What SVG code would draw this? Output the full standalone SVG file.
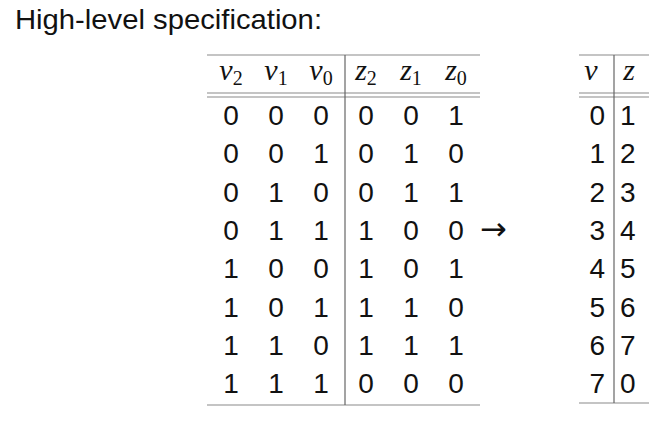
<svg xmlns="http://www.w3.org/2000/svg" width="664" height="426" viewBox="0 0 664 426">
<style>
.t{font-family:"Liberation Sans","DejaVu Sans",sans-serif;font-size:28px;fill:#111}
.d{font-family:"Liberation Sans","DejaVu Sans",sans-serif;font-size:28px;fill:#111;text-anchor:middle}
.m{font-family:"Liberation Serif","DejaVu Serif",serif;font-style:italic;font-size:30px;fill:#111;text-anchor:middle}
.s{font-style:normal;font-size:20px}
.h{stroke:#8a8a8a;stroke-width:1.2;fill:none}
.v{stroke:#666;stroke-width:1.2;fill:none}
</style>
<rect width="664" height="426" fill="#fff"/>
<g id="title">
<text class="t" x="15" y="29" textLength="307" lengthAdjust="spacingAndGlyphs">High-level specification:</text>
</g>
<g id="table-binary">
<line class="h" x1="207" y1="55" x2="480" y2="55"/>
<line class="h" x1="207" y1="93" x2="480" y2="93"/>
<line class="h" x1="207" y1="97" x2="480" y2="97"/>
<line class="h" x1="207" y1="405" x2="480" y2="405"/>
<line class="v" x1="345" y1="55" x2="345" y2="405"/>
<text class="m" x="231" y="80">v<tspan class="s" dy="5">2</tspan></text>
<text class="m" x="276" y="80">v<tspan class="s" dy="5">1</tspan></text>
<text class="m" x="321" y="80">v<tspan class="s" dy="5">0</tspan></text>
<text class="m" x="366" y="80">z<tspan class="s" dy="5">2</tspan></text>
<text class="m" x="411" y="80">z<tspan class="s" dy="5">1</tspan></text>
<text class="m" x="456" y="80">z<tspan class="s" dy="5">0</tspan></text>
<g class="d">
<text x="231" y="125">0</text><text x="276" y="125">0</text><text x="321" y="125">0</text><text x="366" y="125">0</text><text x="411" y="125">0</text><text x="456" y="125">1</text>
<text x="231" y="163.3">0</text><text x="276" y="163.3">0</text><text x="321" y="163.3">1</text><text x="366" y="163.3">0</text><text x="411" y="163.3">1</text><text x="456" y="163.3">0</text>
<text x="231" y="201.6">0</text><text x="276" y="201.6">1</text><text x="321" y="201.6">0</text><text x="366" y="201.6">0</text><text x="411" y="201.6">1</text><text x="456" y="201.6">1</text>
<text x="231" y="240">0</text><text x="276" y="240">1</text><text x="321" y="240">1</text><text x="366" y="240">1</text><text x="411" y="240">0</text><text x="456" y="240">0</text>
<text x="231" y="278.3">1</text><text x="276" y="278.3">0</text><text x="321" y="278.3">0</text><text x="366" y="278.3">1</text><text x="411" y="278.3">0</text><text x="456" y="278.3">1</text>
<text x="231" y="316.6">1</text><text x="276" y="316.6">0</text><text x="321" y="316.6">1</text><text x="366" y="316.6">1</text><text x="411" y="316.6">1</text><text x="456" y="316.6">0</text>
<text x="231" y="355">1</text><text x="276" y="355">1</text><text x="321" y="355">0</text><text x="366" y="355">1</text><text x="411" y="355">1</text><text x="456" y="355">1</text>
<text x="231" y="393.3">1</text><text x="276" y="393.3">1</text><text x="321" y="393.3">1</text><text x="366" y="393.3">0</text><text x="411" y="393.3">0</text><text x="456" y="393.3">0</text>
</g>
</g>
<g id="connectors">
<text x="480" y="240" style="font-family:'DejaVu Sans',sans-serif;font-size:32px;fill:#111">→</text>
</g>
<g id="table-decimal">
<line class="h" x1="579" y1="55" x2="649" y2="55"/>
<line class="h" x1="579" y1="93" x2="649" y2="93"/>
<line class="h" x1="579" y1="97" x2="649" y2="97"/>
<line class="h" x1="579" y1="403" x2="649" y2="403"/>
<line class="v" x1="614" y1="55" x2="614" y2="403"/>
<text class="m" x="591" y="80">v</text>
<text class="m" x="629" y="80">z</text>
<g class="t" text-anchor="end">
<text x="605" y="125">0</text><text x="605" y="163.3">1</text><text x="605" y="201.6">2</text><text x="605" y="240">3</text><text x="605" y="278.3">4</text><text x="605" y="316.6">5</text><text x="605" y="355">6</text><text x="605" y="393">7</text>
</g>
<g class="t">
<text x="620" y="125">1</text><text x="620" y="163.3">2</text><text x="620" y="201.6">3</text><text x="620" y="240">4</text><text x="620" y="278.3">5</text><text x="620" y="316.6">6</text><text x="620" y="355">7</text><text x="620" y="393">0</text>
</g>
</g>
</svg>
